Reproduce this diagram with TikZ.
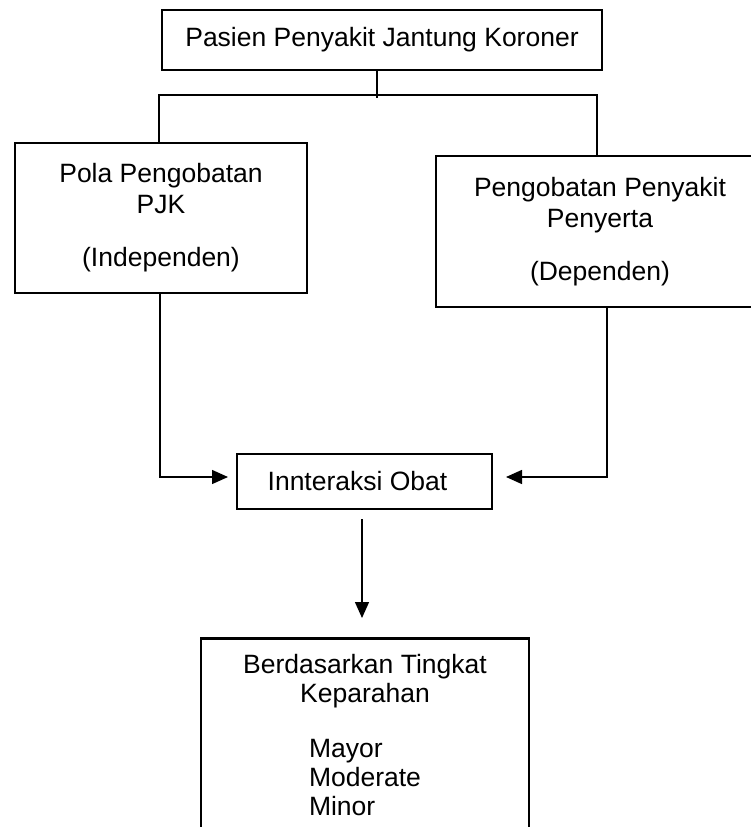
\documentclass[tikz,border=0pt]{standalone}
\usepackage{fontspec}
\setmainfont{Liberation Sans}
\usetikzlibrary{arrows.meta,calc}
\begin{document}
\begin{tikzpicture}[x=1pt,y=-1pt,
  box/.style={draw, line width=2.8pt, align=center, inner sep=0pt, font=\fontsize{26.5}{31}\selectfont},
  conn/.style={line width=1.4pt},
  arr/.style={conn, -{Triangle[length=16pt,width=14pt]}}]
\useasboundingbox (0,0) rectangle (751,827);
\node[box, minimum width=440pt, minimum height=60pt] (top) at (382,40) {Pasien Penyakit Jantung Koroner};
\node[box, minimum width=292pt, minimum height=150pt] (left) at (161,218) {Pola Pengobatan\\PJK\\[22pt](Independen)};
\node[box, minimum width=328pt, minimum height=151pt] (right) at (600,231.5) {Pengobatan Penyakit\\Penyerta\\[22pt](Dependen)};
\node[box, minimum width=255pt, minimum height=55pt] (inter) at (364.5,481.5) {\hspace*{-14pt}Innteraksi Obat};
\node[box, minimum width=328pt, anchor=north, inner ysep=16pt, font=\fontsize{26.5}{29}\selectfont] (res) at (365,637) {Berdasarkan Tingkat\\Keparahan\\[26pt]\begin{tabular}[t]{@{}l@{}}Mayor\\Moderate\\Minor\rule[-40pt]{0pt}{1pt}\end{tabular}};
\coordinate (j) at (377,98);
\coordinate (bl) at (159,95);
\coordinate (br) at (597,95);
\draw[conn] (top.south -| j) -- (j);
\draw[conn] (left.north -| bl) -- (bl) -- (br) -- (right.north -| br);
\coordinate (ia) at (228,477);
\coordinate (ib) at (506,477);
\coordinate (lx) at (160,0);
\coordinate (rx) at (607,0);
\coordinate (dx) at (362,0);
\draw[arr] (left.south -| lx) |- (ia);
\draw[arr] (right.south -| rx) |- (ib);
\draw[arr, shorten <=9pt, shorten >=19pt] (inter.south -| dx) -- (res.north -| dx);
\end{tikzpicture}
\end{document}
